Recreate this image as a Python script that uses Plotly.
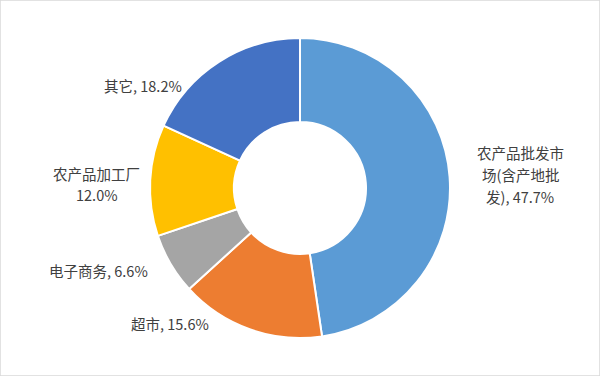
import plotly.graph_objects as go

labels = ["农产品批发市场(含产地批发)", "超市", "电子商务", "农产品加工厂", "其它"]
values = [47.7, 15.6, 6.6, 12.0, 18.2]
colors = ["#5B9BD5", "#ED7D31", "#A5A5A5", "#FFC000", "#4472C4"]
label_lines = [["农产品批发市", "场(含产地批", "发), 47.7%"], ["超市, 15.6%"], ["电子商务, 6.6%"],
               ["农产品加工厂", "12.0%"], ["其它, 18.2%"]]
label_pos = [(520, 174), (170, 323), (98, 270), (97, 184), (143, 86)]
LINE_H = 22

W, H = 600, 376
fig = go.Figure(go.Pie(
    labels=labels, values=values, sort=False, direction="clockwise", rotation=0,
    hole=0.44, marker=dict(colors=colors, line=dict(color="white", width=2)),
    textinfo="none", hoverinfo="label+percent", showlegend=False,
    domain=dict(x=[150 / W, 450 / W], y=[(H - 338) / H, (H - 38) / H]),
))
for lines, (px, py) in zip(label_lines, label_pos):
    n = len(lines)
    for i, t in enumerate(lines):
        ly = py + (i - (n - 1) / 2) * LINE_H
        fig.add_annotation(x=px / W, y=1 - ly / H, xref="paper", yref="paper", text=t,
                           showarrow=False, align="center", xanchor="center", yanchor="middle",
                           font=dict(family="Noto Sans CJK SC", size=14.5, color="#404040"))
fig.update_layout(
    width=W, height=H, margin=dict(l=0, r=0, t=0, b=0),
    paper_bgcolor="white", plot_bgcolor="white",
    shapes=[dict(type="rect", xref="paper", yref="paper", x0=0, y0=0, x1=1, y1=1,
                 line=dict(color="#D9D9D9", width=1.5))],
)
fig.write_html("out.html")
